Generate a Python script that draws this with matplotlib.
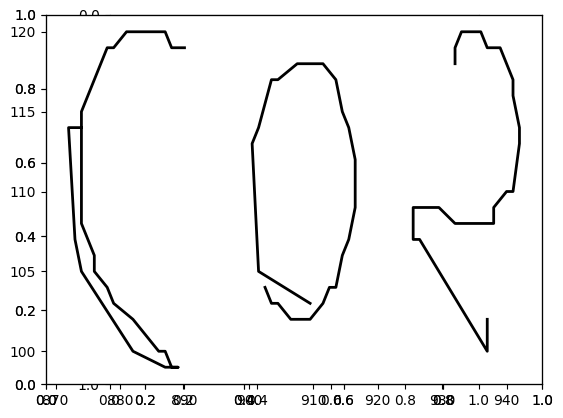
import matplotlib.pyplot as plt

# letter outlines, "C", "O" and "2"
c_x = [890, 888, 887, 881, 879, 878, 874, 874, 872, 873, 874, 882, 887, 889,
       888, 887, 886, 882, 879, 878, 876, 876, 874, 874]
c_y = [119, 119, 120, 120, 119, 119, 115, 114, 114, 107, 105, 100, 99, 99,
       99, 100, 100, 102, 103, 104, 105, 106, 108, 114]

o_x = [902.5, 903.5, 904.5, 906.5, 909.5, 911.5, 912.5, 913.5, 914.5, 915.5,
       916.5, 916.5, 915.5, 914.5, 913.5, 911.5, 907.5, 904.5, 903.5, 901.5,
       900.5, 901.5, 909.5]
o_y = [104, 103, 103, 102, 102, 103, 104, 104, 106, 107, 109, 112, 114, 115,
       117, 118, 118, 117, 117, 114, 113, 105, 103]

two_x = [932, 932, 933, 936, 937, 939, 941, 941, 942, 942, 941, 940, 938, 938,
         932, 929.5, 925.5, 925.5, 926.5, 937, 937]
two_y = [118, 119, 120, 120, 119, 119, 117, 116, 114, 113, 110, 110, 109, 108,
         108, 109, 109, 107, 107, 100, 102]

W, H = 563, 418
main_rect = [46 / W, 34 / H, 496 / W, 369 / H]
square_rect = [109.5 / W, 34 / H, 369 / W, 369 / H]


def main():
    fig = plt.figure(figsize=(W / 100, H / 100), dpi=100)

    # square axes underneath, mostly hidden by the main one
    ax_sq = fig.add_axes(square_rect)
    ax_sq.set_xlim(0, 1)
    ax_sq.set_ylim(1, 0)

    # two empty default axes on top of each other
    ax_a = fig.add_axes(main_rect)
    ax_a2 = fig.add_axes(main_rect)
    ax_a2.patch.set_alpha(0)

    # the letters
    ax = fig.add_axes(main_rect)
    ax.patch.set_alpha(0)
    ax.plot(c_x, c_y, color='black', linewidth=2)
    ax.plot(o_x, o_y, color='black', linewidth=2)
    ax.plot(two_x, two_y, color='black', linewidth=2)
    ax.set_yticks([100, 105, 110, 115, 120])

    fig.savefig("out.png", dpi=100)


if __name__ == "__main__":
    main()
